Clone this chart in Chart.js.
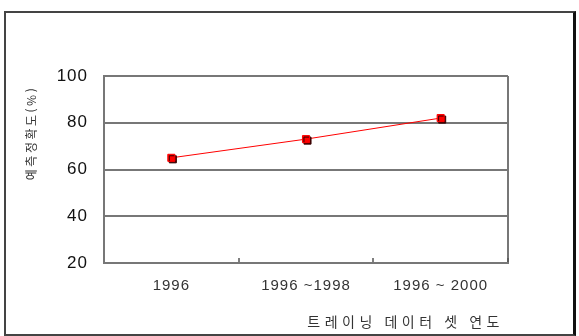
<!DOCTYPE html>
<html lang="ko">

<head>
    <meta charset="UTF-8">
    <title>예측정확도</title>
    <style>
        body {
            margin: 0;
            width: 579px;
            height: 336px;
            background-color: white;
            position: relative;
            overflow: hidden;
        }

        #chart {
            position: absolute;
            left: 0;
            top: 0;
        }

        .frame {
            position: absolute;
            left: 4px;
            top: 11px;
            width: 567px;
            height: 321px;
            border: 2px solid #444;
            border-right: 3px solid #111;
            pointer-events: none;
        }
    </style>
</head>

<body>
    <canvas id="chart" width="579" height="336"></canvas>
    <div class="frame"></div>

    <script src="https://cdn.jsdelivr.net/npm/chart.js@4"></script>
    <script>
        var categories = ['1996', '1996 ~1998', '1996 ~ 2000'];
        var accuracy = [65, 73, 82];
        var yTicks = [20, 40, 60, 80, 100];
        var yTitle = '예측정확도(%)';
        var xTitle = '트레이닝 데이터 셋 연도';

        var grey = '#777';
        var red = '#ff0000';

        // letter spacing + axis titles + marker shadow
        var extras = {
            id: 'extras',
            beforeDraw: function(chart) {
                chart.ctx.letterSpacing = '1px';
            },
            beforeDatasetDraw: function(chart, args) {
                if (args.index !== 0) return;
                var ctx = chart.ctx;
                ctx.save();
                ctx.shadowColor = '#3a0000';
                ctx.shadowOffsetX = 1.5;
                ctx.shadowOffsetY = 1.5;
                ctx.shadowBlur = 0;
            },
            afterDatasetDraw: function(chart, args) {
                if (args.index !== 0) return;
                chart.ctx.restore();
            },
            afterDraw: function(chart) {
                var ctx = chart.ctx;
                var area = chart.chartArea;

                ctx.save();
                ctx.fillStyle = '#333';
                ctx.font = '12px "Noto Sans CJK KR"';
                ctx.letterSpacing = '2.5px';
                ctx.textAlign = 'center';
                ctx.textBaseline = 'middle';
                ctx.translate(area.left - 73, area.top + 57);
                ctx.rotate(-Math.PI / 2);
                ctx.fillText(yTitle, 0, 0);
                ctx.restore();

                ctx.save();
                ctx.fillStyle = '#333';
                ctx.font = '14px "Noto Sans CJK KR"';
                ctx.letterSpacing = '4.5px';
                ctx.textAlign = 'right';
                ctx.textBaseline = 'middle';
                ctx.fillText(xTitle, area.right - 4, area.bottom + 59);
                ctx.restore();
            }
        };

        Chart.defaults.font.family = '"Liberation Sans", Arial, sans-serif';

        new Chart(document.getElementById('chart'), {
            type: 'line',
            data: {
                labels: categories,
                datasets: [{
                    data: accuracy,
                    showLine: false,
                    pointStyle: 'rect',
                    pointRadius: 5,
                    pointBackgroundColor: red,
                    pointBorderColor: red,
                    pointBorderWidth: 1
                }, {
                    data: accuracy,
                    borderColor: red,
                    borderWidth: 1,
                    pointRadius: 0,
                    tension: 0,
                    fill: false
                }]
            },
            options: {
                responsive: false,
                animation: false,
                devicePixelRatio: 1,
                layout: {
                    padding: { left: 20, right: 71, top: 76, bottom: 0 }
                },
                plugins: {
                    legend: { display: false },
                    tooltip: { enabled: false }
                },
                scales: {
                    x: {
                        offset: true,
                        afterFit: function(scale) { scale.height = 73; },
                        grid: {
                            offset: true,
                            lineWidth: 2,
                            tickLength: -5,
                            tickColor: '#555',
                            tickWidth: 1.5,
                            color: function(c) {
                                return (c.index === 1 || c.index === 2) ? 'transparent' : grey;
                            }
                        },
                        border: { color: grey, width: 2 },
                        ticks: {
                            color: '#333',
                            font: { size: 15 },
                            padding: 19,
                            maxRotation: 0,
                            autoSkip: false
                        }
                    },
                    y: {
                        min: yTicks[0],
                        max: yTicks[yTicks.length - 1],
                        afterFit: function(scale) { scale.width = 84; },
                        afterBuildTicks: function(scale) {
                            scale.ticks = yTicks.map(function(v) { return { value: v }; });
                        },
                        grid: {
                            color: grey,
                            lineWidth: 2,
                            drawTicks: false
                        },
                        border: { color: grey, width: 2 },
                        ticks: {
                            color: '#111',
                            font: { size: 17 },
                            padding: 16
                        }
                    }
                }
            },
            plugins: [extras]
        });
    </script>
</body>

</html>
